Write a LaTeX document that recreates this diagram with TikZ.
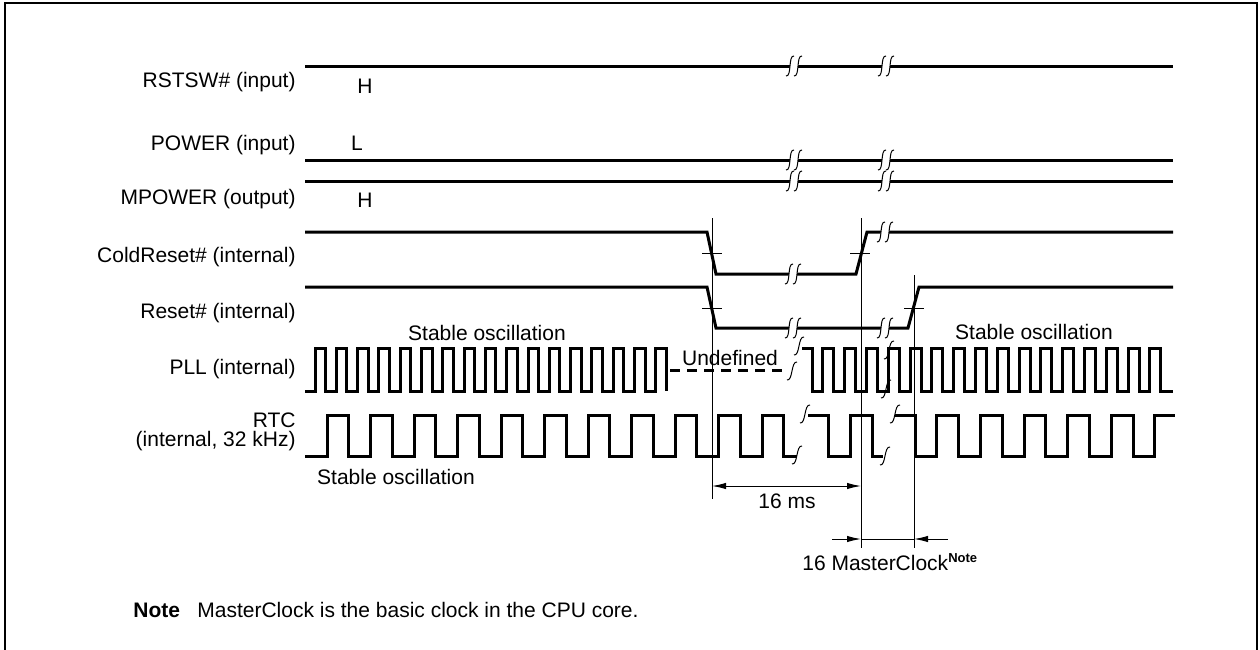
\documentclass[tikz,border=0pt]{standalone}
\usepackage{fontspec}
\setmainfont{Liberation Sans}
\usetikzlibrary{arrows.meta}

\begin{document}
\begin{tikzpicture}[
  x=0.5pt, y=-0.5pt,
  wave/.style={line width=1.5pt, line join=miter},
  thinln/.style={line width=0.5pt},
  frm/.style={line width=1pt},
  dim/.style={line width=0.5pt, {Latex[length=7pt,width=3.2pt]}-{Latex[length=7pt,width=3.2pt]}},
  onedim/.style={line width=0.5pt, -{Latex[length=7pt,width=3.2pt]}},
  lbl/.style={font=\fontsize{10.5}{12}\selectfont, inner sep=0pt},
  sig/.style={lbl, anchor=east, align=right},
  gap/.pic={
    \fill[white] (-8,10) .. controls (-2,11) and (-6,-11) .. (0,-10)
      -- (8,-10) .. controls (2,-11) and (6,11) .. (0,10) -- cycle;
    \draw[thinln] (-8,10) .. controls (-2,11) and (-6,-11) .. (0,-10);
    \draw[thinln] (0,10) .. controls (6,11) and (2,-11) .. (8,-10);
  },
  cut/.pic={
    \draw[thinln] (-5,9) .. controls (1,10) and (-1,-10) .. (5,-9);
  }
]
\useasboundingbox (0,0) rectangle (1260,649);
\draw[frm] (5,670) -- (5,3) -- (1257,3) -- (1257,670);

\node[sig] (rstsw) at (296,82) {RSTSW\# (input)};
\node[sig] (power) at (296,145) {POWER (input)};
\node[sig] (mpower) at (296,199) {MPOWER (output)};
\node[sig] (cold) at (296,257) {ColdReset\# (internal)};
\node[sig] (reset) at (296,313) {Reset\# (internal)};
\node[sig] (pll) at (296,369) {PLL (internal)};
\node[sig, font=\fontsize{10.5}{9.5}\selectfont] (rtc) at (296,432) {RTC\\(internal, 32 kHz)};

\node[lbl] (hA) at (365,86) {H};
\node[lbl] (lB) at (357,143) {L};
\node[lbl] (hC) at (365,200) {H};

\draw[wave] (305,66) -- (1173,66);
\draw[wave] (305,160) -- (1173,160);
\draw[wave] (305,181) -- (1173,181);
\foreach \y in {66,160,181} {
  \pic at (794,\y) {gap};
  \pic at (886,\y) {gap};
}

\draw[wave] (305,232) -- (707,232) -- (716,274) -- (856,274) -- (867,232) -- (1173,232);
\draw[wave] (305,287) -- (707,287) -- (716,328) -- (908,328) -- (919,287) -- (1173,287);
\pic at (793,274) {gap};
\pic at (885,232) {gap};
\pic at (793,328) {gap};
\pic at (885,328) {gap};

\draw[thinln] (702,253) -- (722,253);
\draw[thinln] (850,253) -- (870,253);
\draw[thinln] (702,308) -- (722,308);
\draw[thinln] (904,308) -- (924,308);

\draw[wave] (305,391) -- (315,391)
  \foreach \k in {1,...,16} { -- ++(0,-43) -- ++(10.5,0) -- ++(0,43) -- ++(10.8,0) }
  -- ++(0,-43) -- ++(10.5,0) -- ++(0,43);
\draw[wave, dash pattern=on 5pt off 3.5pt] (670,370) -- (782,370);
\draw[wave] (802,348) -- (812,348) -- (812,391)
  \foreach \k in {1,...,16} { -- ++(10.9,0) -- ++(0,-43) -- ++(10.9,0) -- ++(0,43) }
  -- (1173,391);
\pic at (799,346) {cut};
\pic at (792,371) {cut};
\pic at (889,350) {cut};
\pic at (886,389) {cut};

\draw[wave] (305,456) -- (327,456)
  \foreach \k in {1,...,10} { -- ++(0,-41) -- ++(21.5,0) -- ++(0,41) -- ++(22,0) }
  -- ++(0,-41) -- ++(21.5,0) -- ++(0,41) -- (797,456);
\draw[wave] (808,415) -- (828,415) -- (828,456) -- (850,456) -- (850,415)
  -- (872,415) -- (872,456) -- (883,456);
\draw[wave] (895,415) -- (915,415) -- (915,456)
  \foreach \k in {1,...,5} { -- ++(21.8,0) -- ++(0,-41) -- ++(21.8,0) -- ++(0,41) }
  -- ++(21.8,0) -- ++(0,-41) -- (1175,415);
\pic at (797,455) {cut};
\pic at (805,414) {cut};
\pic at (885,456) {cut};
\pic at (895,414) {cut};

\node[lbl] (stabA) at (487,333) {Stable oscillation};
\node[lbl] (stabB) at (396,477) {Stable oscillation};
\node[lbl] (stabC) at (1034,332) {Stable oscillation};
\node[lbl] (undef) at (730,358) {Undefined};

\coordinate (tA) at (712,218);
\coordinate (tB) at (861,218);
\coordinate (tC) at (914,275);
\draw[thinln] (tA) -- (712,499);
\draw[thinln] (tB) -- (861,548);
\draw[thinln] (tC) -- (914,548);

\draw[dim] (712,486) -- (861,486);
\node[lbl] (ms) at (787,501) {16 ms};

\coordinate (mL) at (832,539);
\coordinate (mR) at (948,539);
\draw[thinln] (861,539) -- (914,539);
\draw[onedim] (mL) -- (861,539);
\draw[onedim] (mR) -- (914,539);
\node[lbl, anchor=west] (mclk) at (802,562) {16 MasterClock\raisebox{4pt}{\fontsize{6.5}{7}\selectfont\bfseries Note}};

\node[lbl, anchor=west, font=\fontsize{10.5}{12}\selectfont\bfseries] (note) at (133,610) {Note};
\node[lbl, anchor=west] (notetxt) at (197,610) {MasterClock is the basic clock in the CPU core.};
\end{tikzpicture}
\end{document}
